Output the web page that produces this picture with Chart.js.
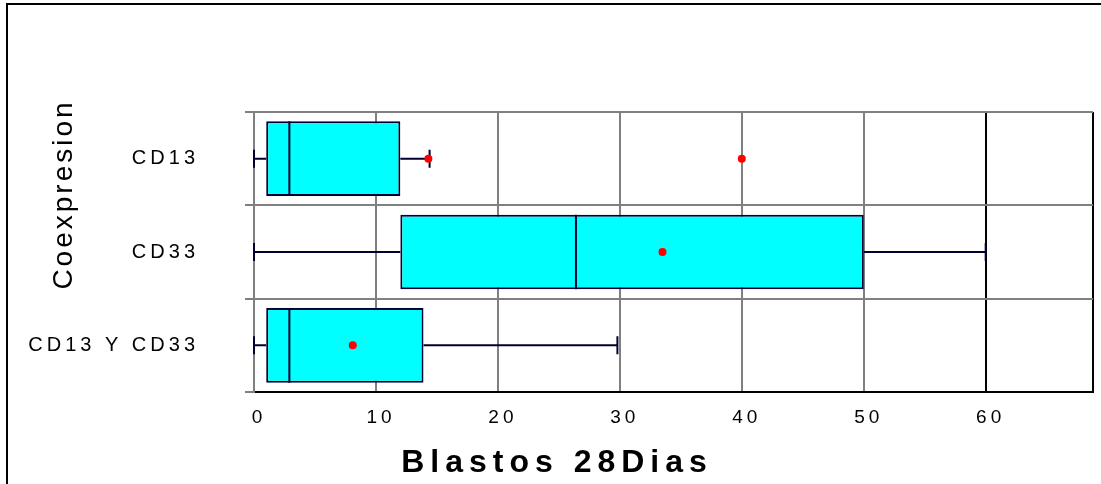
<!DOCTYPE html>
<html>
<head>
<meta charset="utf-8">
<script src="https://cdn.jsdelivr.net/npm/chart.js@4"></script>
<style>
    html, body { margin: 0; padding: 0; background: #fff; }
    #marco { position: relative; width: 1101px; height: 484px; overflow: hidden; }
    #borde { position: absolute; left: 6px; top: 3px; right: -10px; bottom: -10px;
             border-top: 2px solid #000; border-left: 2px solid #000; pointer-events: none; }
    canvas { position: absolute; left: 0; top: 0; }
</style>
</head>
<body>
<div id="marco">
    <canvas id="grafico-caja" width="1101" height="484"></canvas>
    <div id="borde"></div>
</div>
<script>
// Datos
const categorias = ['CD13', 'CD33', 'CD13 Y CD33'];
const minimos  = [0, 0, 0];
const cuartil1 = [1.0, 12.0, 1.0];
const medianas = [2.9, 26.4, 2.9];
const cuartil3 = [12.0, 50.0, 13.9];
const maximos  = [14.4, 60.0, 29.8];
// puntos rojos (medias / atipicos)
const puntosValor = [14.3, 40.0, 33.5, 8.1];
const puntosCat   = ['CD13', 'CD13', 'CD33', 'CD13 Y CD33'];
const marcasX = [0, 10, 20, 30, 40, 50, 60];
const ejeMax = 68.8;
const tituloX = 'Blastos 28Dias';
const tituloY = 'Coexpresion';

// Bigotes y mediana dibujados sobre las cajas
const bigotes = {
    id: 'bigotes',
    afterDatasetDraw(chart, args) {
        if (args.index !== 1) return;
        const ctx = chart.ctx;
        const x = chart.scales.x;
        args.meta.data.forEach((caja, i) => {
            const y = caja.y;
            const h = caja.height;
            const xMin = x.getPixelForValue(minimos[i]);
            const xQ1 = x.getPixelForValue(cuartil1[i]);
            const xMed = x.getPixelForValue(medianas[i]);
            const xQ3 = x.getPixelForValue(cuartil3[i]);
            const xMax = x.getPixelForValue(maximos[i]);
            ctx.save();
            ctx.strokeStyle = '#000033';
            ctx.lineWidth = 2;
            ctx.beginPath();
            ctx.moveTo(xMin, y); ctx.lineTo(xQ1, y);
            ctx.moveTo(xQ3, y); ctx.lineTo(xMax, y);
            ctx.moveTo(xMin, y - 9); ctx.lineTo(xMin, y + 9);
            ctx.moveTo(xMax, y - 9); ctx.lineTo(xMax, y + 9);
            ctx.moveTo(xMed, y - h / 2); ctx.lineTo(xMed, y + h / 2);
            ctx.stroke();
            ctx.restore();
        });
    }
};

// Espaciado de letras y titulos de los ejes
const textos = {
    id: 'textos',
    beforeDraw(chart) {
        chart.ctx.letterSpacing = '4px';
    },
    afterDraw(chart) {
        const ctx = chart.ctx;
        ctx.save();
        ctx.fillStyle = '#000';
        ctx.textAlign = 'center';
        ctx.textBaseline = 'alphabetic';
        ctx.letterSpacing = '6px';
        ctx.font = 'bold 32px "Liberation Sans", Arial, sans-serif';
        ctx.fillText(tituloX, 557, 472);
        ctx.translate(72, 196);
        ctx.rotate(-Math.PI / 2);
        ctx.letterSpacing = '3px';
        ctx.font = '28px "Liberation Sans", Arial, sans-serif';
        ctx.fillText(tituloY, 1.5, 0);
        ctx.restore();
        ctx.letterSpacing = '0px';
    }
};

const ctxCaja = document.getElementById('grafico-caja').getContext('2d');
new Chart(ctxCaja, {
    type: 'bar',
    data: {
        labels: categorias,
        datasets: [{
            type: 'scatter',
            data: puntosValor.map((v, i) => ({x: v, y: puntosCat[i]})),
            backgroundColor: '#ff0000',
            borderWidth: 0,
            pointRadius: 4,
            pointHoverRadius: 4
        },
        {
            data: categorias.map((c, i) => [cuartil1[i], cuartil3[i]]),
            backgroundColor: '#00ffff',
            borderColor: '#000033',
            borderWidth: 2,
            borderSkipped: false,
            categoryPercentage: 0.8,
            barPercentage: 1.0
        }]
    },
    options: {
        indexAxis: 'y',
        responsive: false,
        animation: false,
        devicePixelRatio: 1,
        layout: { padding: { top: 112, right: 8, left: 0, bottom: 0 } },
        plugins: {
            legend: { display: false },
            tooltip: { enabled: false }
        },
        scales: {
            x: {
                type: 'linear',
                min: 0,
                max: ejeMax,
                afterBuildTicks: function(scale) {
                    scale.ticks = marcasX.concat([ejeMax]).map(v => ({value: v}));
                },
                afterFit: function(scale) {
                    scale.height = 92;
                    scale.paddingLeft = 0;
                    scale.paddingRight = 0;
                },
                ticks: {
                    autoSkip: false,
                    maxRotation: 0,
                    padding: 14,
                    labelOffset: 5,
                    color: '#000',
                    font: { family: '"Liberation Sans", Arial, sans-serif', size: 19 },
                    callback: function(value) {
                        return marcasX.includes(value) ? value : '';
                    }
                },
                grid: {
                    drawTicks: false,
                    lineWidth: 2,
                    color: function(c) {
                        return (c.tick && c.tick.value >= 60) ? '#000' : '#808080';
                    }
                },
                border: { color: '#000', width: 2 }
            },
            y: {
                type: 'category',
                offset: true,
                afterFit: function(scale) {
                    scale.width = 254;
                    scale.paddingTop = 0;
                    scale.paddingBottom = 0;
                },
                ticks: {
                    padding: 46,
                    color: '#000',
                    font: { family: '"Liberation Sans", Arial, sans-serif', size: 20 }
                },
                grid: {
                    offset: true,
                    color: '#808080',
                    lineWidth: 2,
                    tickLength: 9
                },
                border: { color: '#808080', width: 2 }
            }
        }
    },
    plugins: [bigotes, textos]
});
</script>
</body>
</html>
